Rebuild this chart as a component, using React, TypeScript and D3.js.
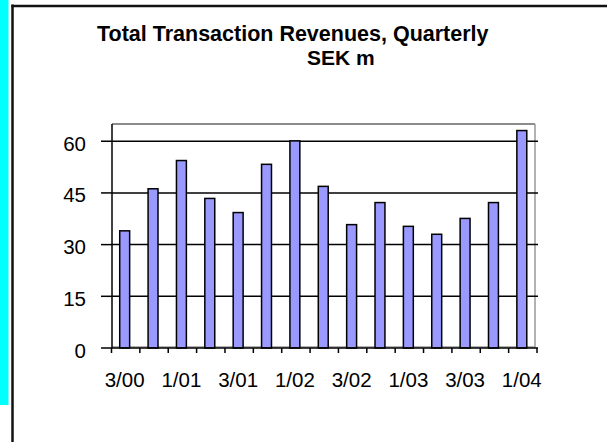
import React from "react";
import * as d3 from "d3";

const categories = ["3/00","4/00","1/01","2/01","3/01","4/01","1/02","2/02","3/02","4/02","1/03","2/03","3/03","4/03","1/04"];
const revenues = [34, 46.2, 54.4, 43.4, 39.3, 53.3, 60.1, 46.9, 35.8, 42.2, 35.3, 33, 37.6, 42.2, 63.1];
const yTicks = [0, 15, 30, 45, 60];
const title = "Total Transaction Revenues, Quarterly";
const subtitle = "SEK m";

const W = 607, H = 442;
const FONT = "'Liberation Sans', Arial, sans-serif";

export default function App() {
  const left = 112, top = 124, bottom = 348;
  const x = d3.scaleBand<string>().domain(categories).range([111.5, 537]).padding(0);
  const y = d3.scaleLinear().domain([0, 65]).range([bottom, top]);
  const bw = x.bandwidth();
  const barW = bw * 0.35;
  const boundaries = d3.range(categories.length + 1).map(i => 111.5 + i * x.step());

  return (
    <svg width={W} height={H} style={{ position: "absolute", left: 0, top: 0, background: "#fff" }} fontFamily={FONT}>
      <rect x={0} y={0} width={W} height={H} fill="#fff" />
      {/* frame */}
      <rect x={0} y={0} width={8.5} height={405} fill="#00FFFF" />
      <line x1={12.5} x2={12.5} y1={4.5} y2={H} stroke="#111" strokeWidth={2.5} />
      <line x1={11.5} x2={W} y1={6} y2={6} stroke="#111" strokeWidth={2.5} />

      {/* titles */}
      <text x={97} y={41} fontSize={21.5} fontWeight="bold" fill="#000">{title}</text>
      <text x={307} y={65} fontSize={21} fontWeight="bold" fill="#000">{subtitle}</text>

      {/* plot area border */}
      <line x1={left} x2={535} y1={top} y2={top} stroke="#666" strokeWidth={1.5} />
      <line x1={535} x2={535} y1={top} y2={bottom} stroke="#999" strokeWidth={1.5} />
      <line x1={left} x2={535} y1={bottom - 1} y2={bottom - 1} stroke="#999" strokeWidth={1.5} />

      {/* gridlines */}
      {yTicks.filter(t => t > 0).map(t => (
        <line key={"g" + t} x1={left} x2={538} y1={y(t)} y2={y(t)} stroke="#000" strokeWidth={1.5} />
      ))}

      {/* bars */}
      {categories.map((c, i) => {
        const cx = (x(c) as number) + bw / 2 - 1;
        return (
          <rect key={c} x={cx - barW / 2} y={y(revenues[i])} width={barW} height={bottom - y(revenues[i])}
            fill="#9999FF" stroke="#000" strokeWidth={1.5} />
        );
      })}

      {/* y axis */}
      <line x1={left} x2={left} y1={top} y2={bottom} stroke="#000" strokeWidth={1.5} />
      {yTicks.map(t => (
        <g key={"y" + t}>
          <line x1={101} x2={left} y1={y(t)} y2={y(t)} stroke="#000" strokeWidth={1.5} />
          <text x={86} y={y(t) + 9.5} fontSize={20.5} textAnchor="end" fill="#000">{t}</text>
        </g>
      ))}

      {/* x axis */}
      <line x1={left} x2={538} y1={bottom} y2={bottom} stroke="#000" strokeWidth={1.5} />
      {boundaries.map((b, i) => (
        <line key={"t" + i} x1={b} x2={b} y1={bottom} y2={bottom + 5} stroke="#000" strokeWidth={1.5} />
      ))}
      {categories.map((c, i) => i % 2 === 0 ? (
        <text key={"l" + c} x={(x(c) as number) + bw / 2 - 1} y={387} fontSize={20.5} textAnchor="middle" fill="#000">{c}</text>
      ) : null)}
    </svg>
  );
}
